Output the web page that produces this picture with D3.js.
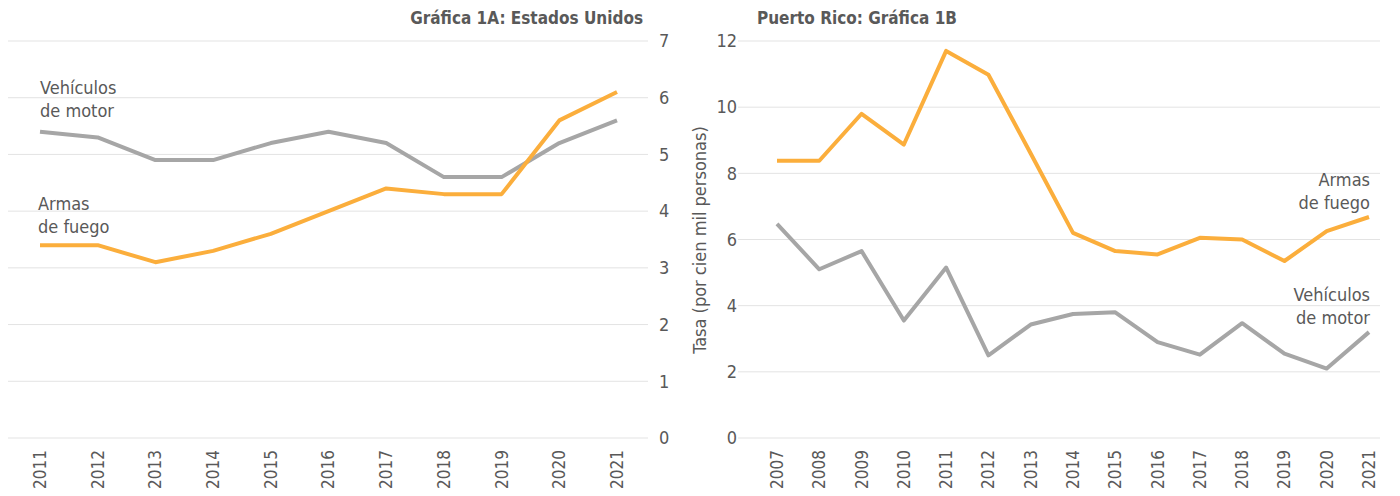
<!DOCTYPE html>
<html>
<head>
<meta charset="utf-8">
<script src="https://cdn.jsdelivr.net/npm/d3@7"></script>
<style>
  body { margin: 0; background: #fff; }
  svg text { font-family: "Liberation Sans Narrow", "DejaVu Sans Condensed", "Roboto", sans-serif; fill: #595959; }
</style>
</head>
<body>
<script>
// Estados Unidos
const yearsUS = [2011, 2012, 2013, 2014, 2015, 2016, 2017, 2018, 2019, 2020, 2021]
const vehiculosUS = [5.4, 5.3, 4.9, 4.9, 5.2, 5.4, 5.2, 4.6, 4.6, 5.2, 5.6]
const armasUS = [3.4, 3.4, 3.1, 3.3, 3.6, 4.0, 4.4, 4.3, 4.3, 5.6, 6.1]
const ticksUS = [0, 1, 2, 3, 4, 5, 6, 7]

// Puerto Rico
const yearsPR = [2007, 2008, 2009, 2010, 2011, 2012, 2013, 2014, 2015, 2016, 2017, 2018, 2019, 2020, 2021]
const armasPR = [8.38, 8.38, 9.8, 8.87, 11.7, 10.98, 8.6, 6.2, 5.65, 5.55, 6.05, 6.0, 5.35, 6.25, 6.68]
const vehiculosPR = [6.47, 5.1, 5.65, 3.55, 5.15, 2.5, 3.43, 3.75, 3.8, 2.9, 2.52, 3.47, 2.55, 2.1, 3.2]
const ticksPR = [0, 2, 4, 6, 8, 10, 12]

const orange = "#fbae3c"
const gray = "#a6a6a6"

const svg = d3.select("body").append("svg")
    .attr("width", 1400)
    .attr("height", 496)

function drawPanel(opt) {
    const g = svg.append("g")
    const x = d3.scalePoint().domain(opt.years).range(opt.xRange)
    const y = d3.scaleLinear().domain([0, opt.yMax]).range([438, 41])

    // gridlines
    g.selectAll("line.grid")
        .data(opt.ticks)
        .join("line")
        .attr("x1", opt.gridRange[0])
        .attr("x2", opt.gridRange[1])
        .attr("y1", d => y(d))
        .attr("y2", d => y(d))
        .attr("stroke", "#e3e3e3")
        .attr("stroke-width", 1)

    // y tick labels
    g.selectAll("text.ytick")
        .data(opt.ticks)
        .join("text")
        .attr("x", opt.yLabelX)
        .attr("y", d => y(d))
        .attr("dy", "0.35em")
        .attr("text-anchor", opt.yAnchor)
        .attr("font-size", 18)
        .text(d => d)

    // x tick labels
    g.selectAll("text.xtick")
        .data(opt.years)
        .join("text")
        .attr("transform", d => `translate(${x(d)},450) rotate(-90)`)
        .attr("dy", "0.35em")
        .attr("text-anchor", "end")
        .attr("font-size", 17)
        .text(d => d)

    const line = d3.line()
        .x((d, i) => x(opt.years[i]))
        .y(d => y(d))

    g.append("path")
        .datum(opt.gray)
        .attr("fill", "none")
        .attr("stroke", gray)
        .attr("stroke-width", 4)
        .attr("stroke-linejoin", "round")
        .attr("d", line)

    g.append("path")
        .datum(opt.orange)
        .attr("fill", "none")
        .attr("stroke", orange)
        .attr("stroke-width", 4)
        .attr("stroke-linejoin", "round")
        .attr("d", line)

    g.append("text")
        .attr("x", opt.titleX)
        .attr("y", 24)
        .attr("text-anchor", opt.titleAnchor)
        .attr("font-size", 17)
        .attr("font-weight", "bold")
        .text(opt.title)

    opt.labels.forEach(l => {
        l.lines.forEach((t, i) => {
            g.append("text")
                .attr("x", l.x)
                .attr("y", l.y + i * 23)
                .attr("text-anchor", l.anchor)
                .attr("font-size", 18)
                .text(t)
        })
    })
    return g
}

drawPanel({
    years: yearsUS, gray: vehiculosUS, orange: armasUS, ticks: ticksUS, yMax: 7,
    xRange: [40, 617], gridRange: [8, 648], yLabelX: 659, yAnchor: "start",
    title: "Gráfica 1A: Estados Unidos", titleX: 643, titleAnchor: "end",
    labels: [
        { lines: ["Vehículos", "de motor"], x: 40, y: 94, anchor: "start" },
        { lines: ["Armas", "de fuego"], x: 38, y: 210, anchor: "start" }
    ]
})

drawPanel({
    years: yearsPR, gray: vehiculosPR, orange: armasPR, ticks: ticksPR, yMax: 12,
    xRange: [777, 1369], gridRange: [738, 1380], yLabelX: 737, yAnchor: "end",
    title: "Puerto Rico: Gráfica 1B", titleX: 757, titleAnchor: "start",
    labels: [
        { lines: ["Armas", "de fuego"], x: 1370, y: 186, anchor: "end" },
        { lines: ["Vehículos", "de motor"], x: 1370, y: 301, anchor: "end" }
    ]
})

svg.append("text")
    .attr("transform", "translate(700,240) rotate(-90)")
    .attr("text-anchor", "middle")
    .attr("dy", "0.35em")
    .attr("font-size", 18)
    .text("Tasa (por cien mil personas)")
</script>
</body>
</html>
